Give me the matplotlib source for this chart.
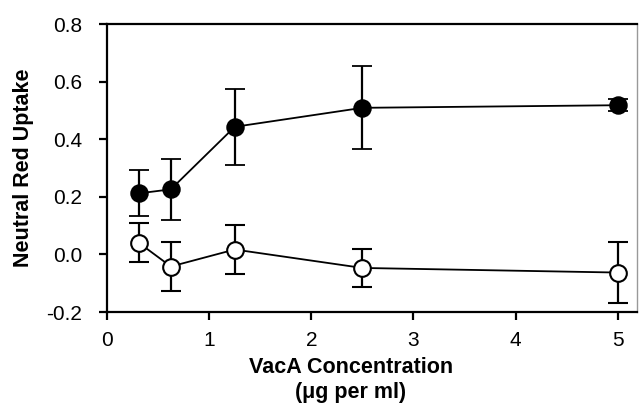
import matplotlib
matplotlib.use("Agg")
import matplotlib.pyplot as plt

plt.rcParams['font.family'] = ['Liberation Sans', 'DejaVu Sans']

conc = [0.3125, 0.625, 1.25, 2.5, 5.0]
filled_y = [0.212, 0.226, 0.443, 0.509, 0.518]
filled_err = [0.080, 0.105, 0.132, 0.144, 0.020]
open_y = [0.040, -0.042, 0.017, -0.047, -0.063]
open_err = [0.068, 0.085, 0.085, 0.065, 0.105]

fig = plt.figure(figsize=(6.39, 4.07), dpi=100)
ax = fig.add_axes([0.1675, 0.2334, 0.8295, 0.7076])

ax.errorbar(conc, filled_y, yerr=filled_err, color='black', lw=1.3,
            marker='o', ms=12, mfc='black', mec='black', mew=1.3,
            capsize=7, capthick=1.6, elinewidth=1.6)
ax.errorbar(conc, open_y, yerr=open_err, color='black', lw=1.3,
            marker='o', ms=12, mfc='white', mec='black', mew=1.5,
            capsize=7, capthick=1.6, elinewidth=1.6)

ax.set_xlim(0, 5.19)
ax.set_ylim(-0.2, 0.8)
ax.set_xticks([0, 1, 2, 3, 4, 5])
ax.set_yticks([-0.2, 0.0, 0.2, 0.4, 0.6, 0.8])
ax.set_yticklabels(['-0.2', '0.0', '0.2', '0.4', '0.6', '0.8'])
ax.tick_params(direction='out', length=6, width=1.6, labelsize=15)
ax.tick_params(axis='y', pad=12)
ax.tick_params(axis='x', pad=8)
for s in ['left', 'bottom', 'top']:
    ax.spines[s].set_linewidth(1.6)
ax.spines['right'].set_linewidth(1.0)
ax.spines['right'].set_color('#999999')

ax.set_ylabel('Neutral Red Uptake', fontsize=15.5, fontweight='bold', labelpad=9)
ax.set_xlabel('VacA Concentration\n(\u03bcg per ml)', fontsize=15.5, fontweight='bold',
              linespacing=1.3)
ax.xaxis.set_label_coords(0.46, -0.155, transform=ax.transAxes)
ax.xaxis.label.set_verticalalignment('top')

fig.savefig('out.png', dpi=100)
